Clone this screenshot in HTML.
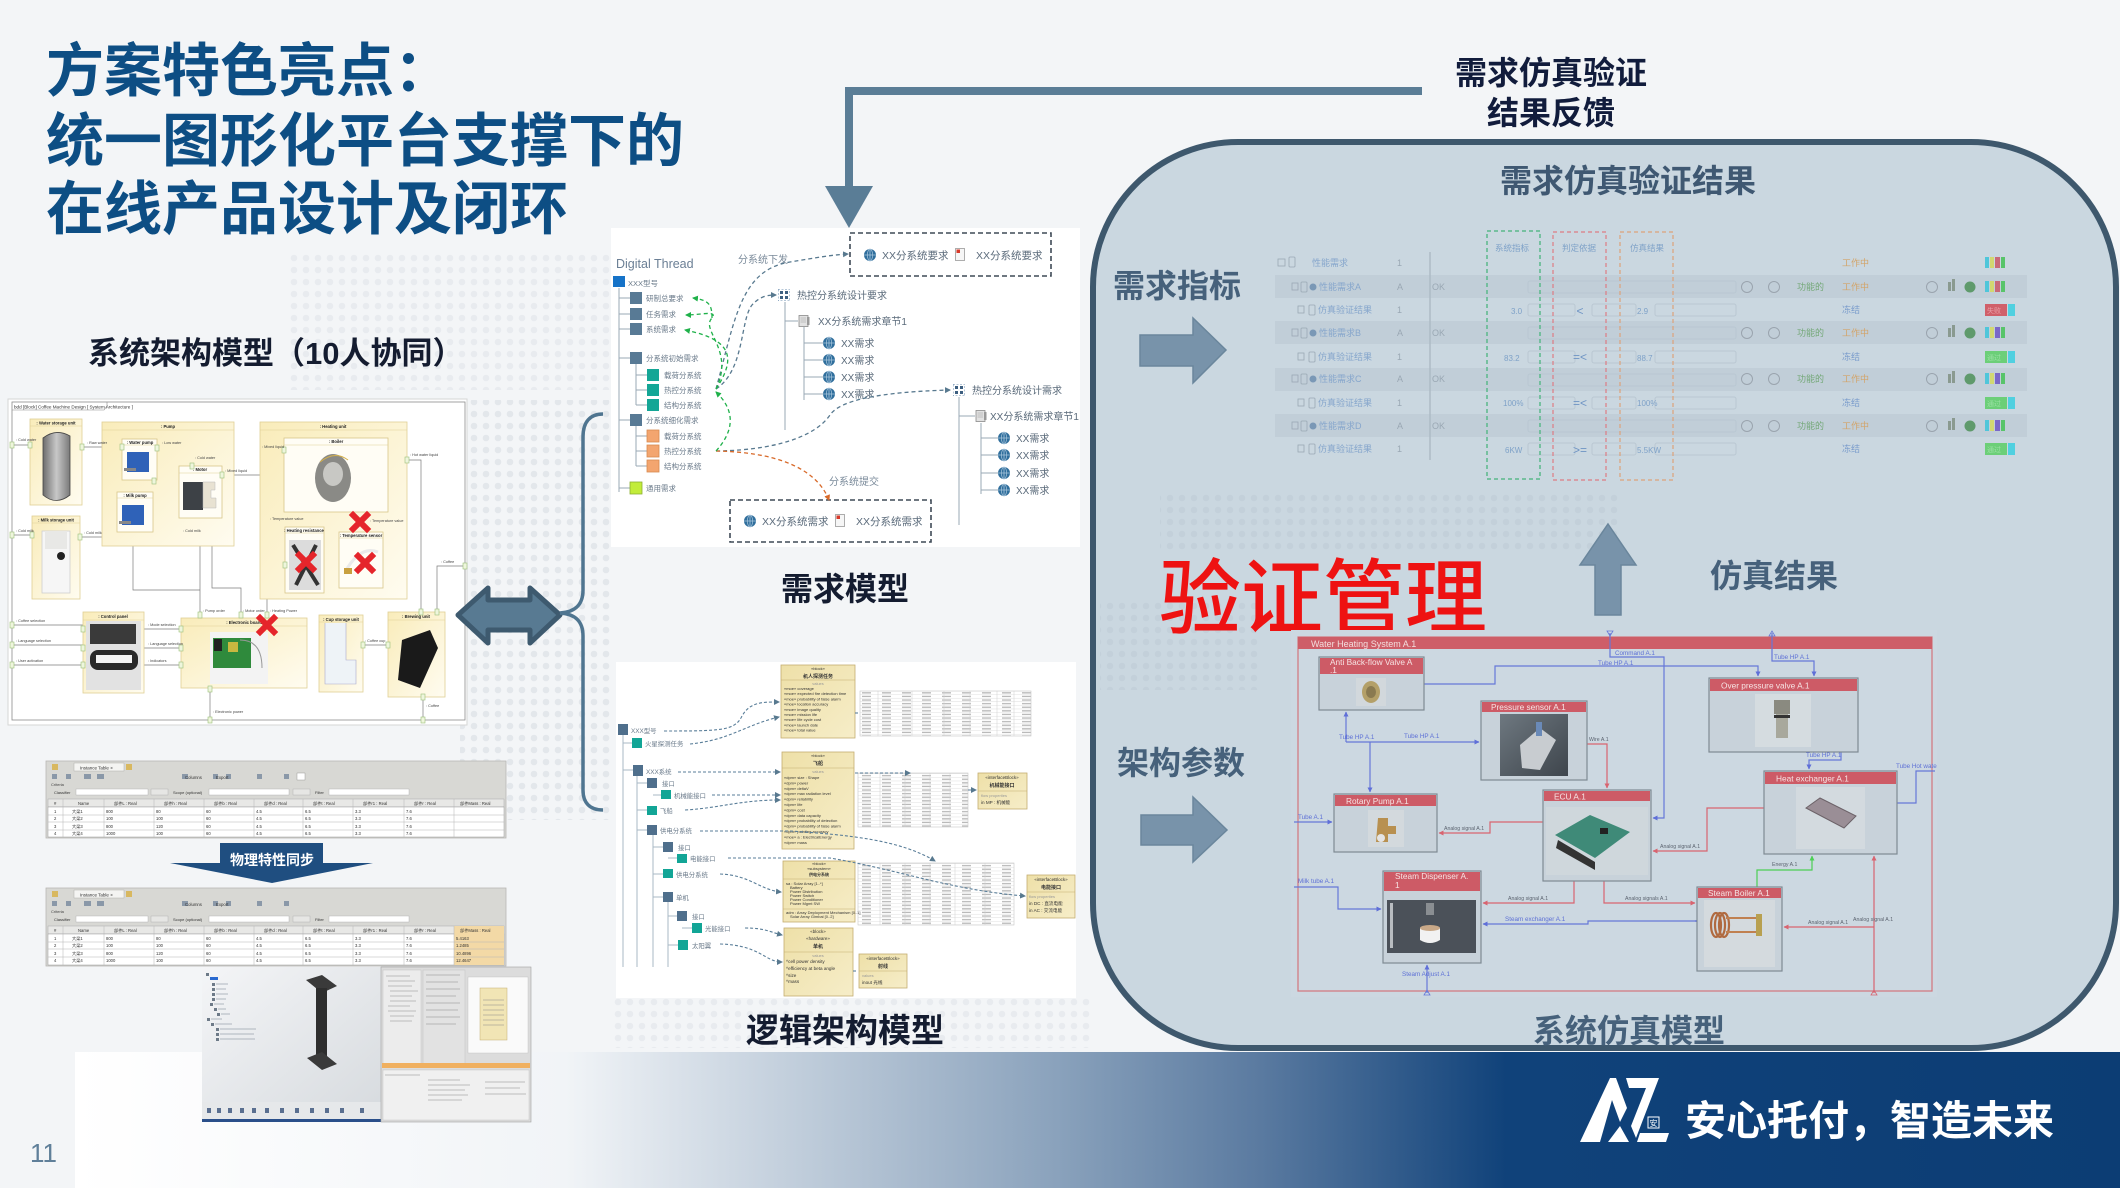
<!DOCTYPE html>
<html><head><meta charset="utf-8">
<style>
html,body{margin:0;padding:0;background:#f3f5f7;}
svg{display:block}
text{font-family:"Liberation Sans","Noto Sans CJK SC",sans-serif;}
</style></head><body>
<svg width="2120" height="1188" viewBox="0 0 2120 1188" xmlns="http://www.w3.org/2000/svg">
<defs>
 <linearGradient id="foot" x1="75" y1="0" x2="2120" y2="0" gradientUnits="userSpaceOnUse">
  <stop offset="0" stop-color="#ffffff"/>
  <stop offset="0.24" stop-color="#f1f4f7"/>
  <stop offset="0.48" stop-color="#8aa2bc"/>
  <stop offset="0.58" stop-color="#5a7aa0"/>
  <stop offset="0.70" stop-color="#10427a"/>
  <stop offset="1" stop-color="#0c3d74"/>
 </linearGradient>
 <linearGradient id="yel" x1="0" y1="0" x2="1" y2="1">
  <stop offset="0" stop-color="#f9ecba"/>
  <stop offset="1" stop-color="#fffcf0"/>
 </linearGradient>
 <linearGradient id="lyel" x1="0" y1="0" x2="1" y2="1">
  <stop offset="0" stop-color="#eee0a8"/>
  <stop offset="1" stop-color="#f6edc8"/>
 </linearGradient>
 <linearGradient id="tank" x1="0" y1="0" x2="1" y2="0">
  <stop offset="0" stop-color="#6d6d6d"/>
  <stop offset="0.5" stop-color="#c8c8c8"/>
  <stop offset="1" stop-color="#7a7a7a"/>
 </linearGradient>
 <linearGradient id="vp" x1="0" y1="0" x2="1" y2="1">
  <stop offset="0" stop-color="#f4f5f7"/>
  <stop offset="1" stop-color="#d6dade"/>
 </linearGradient>
 <linearGradient id="dk" x1="0" y1="0" x2="1" y2="1">
  <stop offset="0" stop-color="#6e7880"/>
  <stop offset="1" stop-color="#3e454c"/>
 </linearGradient>
 <pattern id="dots" width="12" height="12" patternUnits="userSpaceOnUse"><circle cx="6" cy="6" r="3.3" fill="#e1e5ea"/></pattern>
 <pattern id="dots2" width="12" height="12" patternUnits="userSpaceOnUse"><circle cx="6" cy="6" r="3.3" fill="#bfccd6"/></pattern>
 <pattern id="tbl" width="20" height="3.6" patternUnits="userSpaceOnUse"><rect width="20" height="3.6" fill="#fff"/><line x1="0" y1="3.4" x2="20" y2="3.4" stroke="#d4d4d4" stroke-width="0.4"/><rect x="2" y="1" width="9" height="1.3" fill="#b8b8b8"/></pattern>
 <symbol id="globe" viewBox="-6 -6 12 12" overflow="visible"><circle r="6" fill="#2f6e9c"/><path d="M-6 0H6M0-6V6" stroke="#a9c6dc" stroke-width="0.8"/><ellipse rx="2.6" ry="6" fill="none" stroke="#a9c6dc" stroke-width="0.7"/></symbol>
 <symbol id="pdf" viewBox="0 0 10 13"><rect x="0.5" y="0.5" width="9" height="12" fill="#f6f6f6" stroke="#9a9a9a" stroke-width="0.8"/><rect x="1.5" y="1.5" width="3.5" height="3.5" fill="#d83a2a"/></symbol>
 <symbol id="quad" viewBox="0 0 12 12"><rect x="0" y="0" width="12" height="12" fill="none" stroke="#6c8fb0" stroke-width="1" stroke-dasharray="2,1.5"/><rect x="2" y="2" width="3" height="3" fill="#3d5f80"/><rect x="7" y="2" width="3" height="3" fill="#3d5f80"/><rect x="2" y="7" width="3" height="3" fill="#3d5f80"/><rect x="7" y="7" width="3" height="3" fill="#3d5f80"/></symbol>
 <symbol id="doc" viewBox="0 0 12 12"><rect x="1" y="0.5" width="9" height="11" fill="#e2e2e2" stroke="#8a8a8a" stroke-width="0.8"/><rect x="9" y="2" width="2.5" height="8" fill="#999"/><path d="M2.5 3H8M2.5 5H8M2.5 7H8" stroke="#999" stroke-width="0.6"/></symbol>
 <marker id="ab" markerWidth="6" markerHeight="6" refX="5" refY="3" orient="auto" markerUnits="userSpaceOnUse"><path d="M0 0L6 3L0 6Z" fill="#58798f"/></marker>
 <marker id="ag" markerWidth="6" markerHeight="6" refX="5" refY="3" orient="auto" markerUnits="userSpaceOnUse"><path d="M0 0L6 3L0 6Z" fill="#1fb14a"/></marker>
 <marker id="ao" markerWidth="6" markerHeight="6" refX="5" refY="3" orient="auto" markerUnits="userSpaceOnUse"><path d="M0 0L6 3L0 6Z" fill="#d86a2a"/></marker>
 <marker id="mb" markerWidth="5" markerHeight="5" refX="4.5" refY="2.5" orient="auto" markerUnits="userSpaceOnUse"><path d="M0 0L5 2.5L0 5Z" fill="#5f6fd8"/></marker>
 <marker id="mr" markerWidth="5" markerHeight="5" refX="4.5" refY="2.5" orient="auto" markerUnits="userSpaceOnUse"><path d="M0 0L5 2.5L0 5Z" fill="#d86470"/></marker>
 <marker id="mg" markerWidth="5" markerHeight="5" refX="4.5" refY="2.5" orient="auto" markerUnits="userSpaceOnUse"><path d="M0 0L5 2.5L0 5Z" fill="#4ccf55"/></marker>
</defs>

<!-- background -->
<rect width="2120" height="1188" fill="#f3f5f7"/>
<rect x="290" y="250" width="320" height="140" fill="url(#dots)" opacity="0.6"/>
<rect x="460" y="400" width="150" height="420" fill="url(#dots)" opacity="0.9"/>
<rect x="610" y="998" width="480" height="50" fill="url(#dots)" opacity="0.6"/>

<!-- Title -->
<g font-weight="700" fill="#0d4e84" font-size="58">
 <text x="46" y="91">方案特色亮点：</text>
 <text x="46" y="161">统一图形化平台支撑下的</text>
 <text x="46" y="229">在线产品设计及闭环</text>
</g>

<!-- top feedback connector -->
<path d="M1422 91 H849 V190" fill="none" stroke="#5a7d96" stroke-width="8"/>
<polygon points="825,186 873,186 849,228" fill="#5a7d96"/>
<g font-weight="700" fill="#111c3c" font-size="32" text-anchor="middle">
 <text x="1551" y="84">需求仿真验证</text>
 <text x="1551" y="124">结果反馈</text>
</g>

<!-- left label -->
<text x="88" y="364" font-size="31" font-weight="700" fill="#141c30">系统架构模型（10人协同）</text>

<!-- ============ SYSTEM ARCHITECTURE IMAGE ============ -->
<rect x="8" y="399" width="459" height="326" fill="#ffffff" stroke="#d6d6d6"/>
<rect x="12" y="402" width="453" height="318" fill="none" stroke="#8c8c8c" stroke-width="0.8"/>
<path d="M12 410 H104 L107 406 V402" fill="none" stroke="#8c8c8c" stroke-width="0.6"/>
<text x="14" y="408.5" font-size="4.6" fill="#333">bdd [Block] Coffee Machine Design [ System Architecture ]</text>
<g fill="none" stroke="#7c7c7c" stroke-width="0.7">
 <path d="M12 445 H30"/><path d="M82 447 H122"/><path d="M157 448 H192 V466"/>
 <path d="M222 475 H277 V450 H284"/><path d="M154 480 V492 H162 V538 H200 V615"/>
 <path d="M133 532 V590 H200"/><path d="M212 518 V588 H241 V615"/>
 <path d="M285 565 H267 V615"/><path d="M421 612 V460 H407"/><path d="M437 612 V566 H465"/>
 <path d="M12 625 H83"/><path d="M12 645 H83"/><path d="M12 665 H83"/>
 <path d="M144 629 H181"/><path d="M144 648 H181"/><path d="M144 665 H181"/>
 <path d="M363 645 H388"/><path d="M210 688 V720"/><path d="M423 697 V720"/>
 <path d="M12 535 H32"/><path d="M80 537 H102"/><path d="M309 517 V527"/>
</g>
<g fill="url(#yel)" stroke="#e0cf95" stroke-width="0.8">
 <rect x="30" y="419" width="52" height="86"/>
 <rect x="102" y="422" width="132" height="124"/>
 <rect x="260" y="422" width="147" height="177"/>
 <rect x="32" y="516" width="48" height="83"/>
 <rect x="83" y="612" width="61" height="81"/>
 <rect x="181" y="618" width="126" height="70"/>
 <rect x="319" y="615" width="44" height="77"/>
 <rect x="388" y="612" width="57" height="85"/>
</g>
<g fill="#fffdf5" stroke="#d8c68a" stroke-width="0.8">
 <rect x="122" y="439" width="35" height="41"/>
 <rect x="117" y="492" width="36" height="40"/>
 <rect x="179" y="466" width="43" height="52"/>
 <rect x="284" y="438" width="104" height="74"/>
 <rect x="285" y="527" width="39" height="66"/>
 <rect x="339" y="532" width="44" height="56"/>
</g>
<g stroke="#e0cf95" stroke-width="0.6">
 <path d="M30 426H82M102 430H234M260 430H407M32 523H80M83 620H144M181 626H307M319 622H363M388 620H445M122 445H157M117 498H153M179 473H222M284 445H388M285 533H324M339 538H383"/>
</g>
<g font-size="4.2" fill="#222" text-anchor="middle" font-weight="700">
 <text x="56" y="424.5">: Water storage unit</text><text x="168" y="428">: Pump</text>
 <text x="333" y="428">: Heating unit</text><text x="56" y="521.5">: Milk storage unit</text>
 <text x="113" y="618">: Control panel</text><text x="244" y="624">: Electronic board</text>
 <text x="341" y="621">: Cup storage unit</text><text x="416" y="618">: Brewing unit</text>
 <text x="140" y="444">: Water pump</text><text x="135" y="497">: Milk pump</text>
 <text x="200" y="471">: Motor</text><text x="336" y="443">: Boiler</text>
 <text x="304" y="532">: Heating resistance</text><text x="361" y="537">: Temperature sensor</text>
</g>
<!-- images -->
<path d="M43 438 Q56 428 70 436 L70 495 Q56 506 43 495 Z" fill="url(#tank)" stroke="#444" stroke-width="0.8"/>
<rect x="127" y="452" width="22" height="20" fill="#2f62b8"/><rect x="124" y="468" width="12" height="3" fill="#888"/>
<rect x="122" y="505" width="22" height="20" fill="#2f62b8"/><rect x="119" y="521" width="12" height="3" fill="#888"/>
<rect x="183" y="482" width="20" height="28" fill="#3d4146"/><path d="M203 482 h12 v8 h-4 v8 h5 v10 h-13 z" fill="#e8e2d2" stroke="#bbb" stroke-width="0.5"/>
<ellipse cx="333" cy="478" rx="18" ry="24" fill="#8a8a86"/><ellipse cx="333" cy="474" rx="10" ry="12" fill="#c8c8c4"/><path d="M320 462 Q335 450 348 460" stroke="#d4b04a" fill="none"/>
<rect x="289" y="540" width="32" height="50" fill="#dcdcdc"/><path d="M293 545 L318 585 M316 545 L296 585" stroke="#333" stroke-width="4"/>
<path d="M345 572 Q360 545 378 552" fill="none" stroke="#eaeaea" stroke-width="3"/><rect x="344" y="568" width="8" height="6" fill="#c8a040"/>
<rect x="42" y="531" width="28" height="62" fill="#f6f6f6" stroke="#cfcfcf" stroke-width="0.8"/><rect x="45" y="531" width="22" height="18" fill="#e8e8e6"/><circle cx="61" cy="556" r="4" fill="#222"/>
<rect x="86" y="621" width="55" height="69" fill="#e2e2e2"/><rect x="90" y="624" width="46" height="20" fill="#3a3a3a"/><rect x="90" y="650" width="48" height="20" rx="8" fill="#2a2a2a"/><rect x="96" y="655" width="36" height="8" fill="#f4f4f4"/>
<rect x="210" y="632" width="58" height="52" fill="#f3f3f3"/><rect x="213" y="638" width="38" height="30" fill="#2f8a3c"/><rect x="228" y="642" width="10" height="10" fill="#c8b840"/><rect x="214" y="639" width="8" height="12" fill="#222"/><path d="M240 640 Q262 640 262 668" stroke="#999" fill="none"/>
<path d="M325 623 V684 H356 V660 H346 V623" fill="#eef3f7" stroke="#aac" stroke-width="0.6"/>
<path d="M402 640 L430 630 L438 648 L420 688 L398 680 Z" fill="#1a1a1a"/>
<g stroke="#e5252b" stroke-width="6" stroke-linecap="square">
 <path d="M260 618 L274 632 M274 618 L260 632"/><path d="M353 515 L367 529 M367 515 L353 529"/>
 <path d="M299 555 L313 569 M313 555 L299 569"/><path d="M358 556 L372 570 M372 556 L358 570"/>
</g>
<g fill="#eef6dc" stroke="#9bbf7a" stroke-width="0.6">
 <rect x="10" y="442" width="4" height="6"/><rect x="28" y="442" width="4" height="6"/><rect x="80" y="444" width="4" height="6"/>
 <rect x="120" y="444" width="4" height="6"/><rect x="155" y="445" width="4" height="6"/><rect x="190" y="463" width="4" height="6"/>
 <rect x="220" y="472" width="4" height="6"/><rect x="282" y="447" width="4" height="6"/><rect x="152" y="478" width="4" height="6"/>
 <rect x="10" y="532" width="4" height="6"/><rect x="30" y="532" width="4" height="6"/><rect x="78" y="534" width="4" height="6"/>
 <rect x="10" y="622" width="4" height="6"/><rect x="10" y="642" width="4" height="6"/><rect x="10" y="662" width="4" height="6"/>
 <rect x="81" y="626" width="4" height="6"/><rect x="81" y="645" width="4" height="6"/><rect x="81" y="662" width="4" height="6"/>
 <rect x="179" y="626" width="4" height="6"/><rect x="179" y="645" width="4" height="6"/><rect x="179" y="662" width="4" height="6"/>
 <rect x="198" y="612" width="4" height="6"/><rect x="239" y="612" width="4" height="6"/><rect x="265" y="612" width="4" height="6"/>
 <rect x="208" y="686" width="4" height="6"/><rect x="208" y="717" width="4" height="6"/><rect x="421" y="694" width="4" height="6"/>
 <rect x="421" y="717" width="4" height="6"/><rect x="361" y="642" width="4" height="6"/><rect x="386" y="642" width="4" height="6"/>
 <rect x="419" y="609" width="4" height="6"/><rect x="435" y="609" width="4" height="6"/><rect x="463" y="563" width="4" height="6"/>
 <rect x="405" y="457" width="4" height="6"/><rect x="283" y="562" width="4" height="6"/>
</g>
<g font-size="3.8" fill="#444">
 <text x="16" y="441">: Cold water</text><text x="87" y="444">: Raw water</text><text x="162" y="444">: Low water</text>
 <text x="195" y="459">: Cold water</text><text x="225" y="472">: Mixed liquid</text><text x="262" y="448">: Mixed liquid</text>
 <text x="410" y="456">: Hot water liquid</text><text x="16" y="532">: Cold milk</text><text x="84" y="534">: Cold milk</text>
 <text x="183" y="532">: Cold milk</text><text x="16" y="622">: Coffee selection</text><text x="16" y="642">: Language selection</text>
 <text x="16" y="662">: User activation</text><text x="148" y="626">: Mode selection</text><text x="148" y="645">: Language selection</text>
 <text x="148" y="662">: Indicators</text><text x="203" y="612">: Pump order</text><text x="243" y="612">: Motor order</text>
 <text x="270" y="612">: Heating Power</text><text x="365" y="642">: Coffee cup</text><text x="441" y="563">: Coffee</text>
 <text x="213" y="713">: Electronic power</text><text x="426" y="707">: Coffee</text><text x="270" y="520">: Temperature value</text>
 <text x="370" y="522">: Temperature value</text>
</g>

<!-- double arrow & brace -->
<polygon points="458,615 488,588 488,600 530,600 530,588 560,615 530,643 530,630 488,630 488,643" fill="#587a92" stroke="#3e5a6f" stroke-width="5" stroke-linejoin="round"/>
<path d="M603 414 C590 414 583 422 583 437 L583 590 C583 605 575 612 560 613 C575 614 583 621 583 636 L583 790 C583 803 590 810 603 810" fill="none" stroke="#4f7590" stroke-width="3.5"/>

<!-- ============ REQUIREMENTS PANEL ============ -->
<rect x="611" y="228" width="469" height="319" fill="#ffffff"/>
<text x="616" y="268" font-size="12.5" fill="#6b7f95">Digital Thread</text>
<g stroke="#9aa8b5" stroke-width="1" fill="none">
 <path d="M619 288 V492"/><path d="M619 298H630M619 314H630M619 329H630M619 358H630M619 420H630M619 488H630"/>
 <path d="M636 364 V405 M636 375H647M636 390H647M636 405H647"/>
 <path d="M636 426 V466 M636 436H647M636 451H647M636 466H647"/>
 <path d="M785 302 V430 M785 321H798"/><path d="M804 327 V400 M804 343H823M804 360H823M804 377H823M804 394H823"/>
 <path d="M959 397 V525 M959 416H975"/><path d="M981 423 V494 M981 438H998M981 455H998M981 473H998M981 490H998"/>
</g>
<rect x="613" y="276" width="12" height="11" fill="#1673c8"/>
<g fill="#587a95"><rect x="630" y="292" width="12" height="12"/><rect x="630" y="308" width="12" height="12"/><rect x="630" y="323" width="12" height="12"/><rect x="630" y="352" width="12" height="12"/><rect x="630" y="414" width="12" height="12"/></g>
<g fill="#14a696"><rect x="647" y="369" width="12" height="12"/><rect x="647" y="384" width="12" height="12"/><rect x="647" y="399" width="12" height="12"/></g>
<g fill="#f3a56f" stroke="#d88a50" stroke-width="0.8"><rect x="647" y="430" width="12" height="12"/><rect x="647" y="445" width="12" height="12"/><rect x="647" y="460" width="12" height="12"/></g>
<rect x="630" y="482" width="12" height="12" fill="#c2ec3a" stroke="#8cb030" stroke-width="0.8"/>
<g font-size="7.5" fill="#6a7a8a">
 <text x="628" y="286">XXX型号</text>
 <text x="646" y="301">研制总要求</text><text x="646" y="317">任务需求</text><text x="646" y="332">系统需求</text>
 <text x="646" y="361">分系统初始需求</text><text x="664" y="378">载荷分系统</text><text x="664" y="393">热控分系统</text><text x="664" y="408">结构分系统</text>
 <text x="646" y="423">分系统细化需求</text><text x="664" y="439">载荷分系统</text><text x="664" y="454">热控分系统</text><text x="664" y="469">结构分系统</text>
 <text x="646" y="491">通用需求</text>
</g>
<!-- dashed boxes -->
<rect x="850" y="233" width="201" height="43" fill="none" stroke="#3f4a56" stroke-width="1.6" stroke-dasharray="5,3"/>
<rect x="730" y="500" width="201" height="42" fill="none" stroke="#3f4a56" stroke-width="1.6" stroke-dasharray="5,3"/>
<use href="#globe" x="864" y="249" width="12" height="12"/>
<use href="#pdf" x="955" y="248" width="10" height="13"/>
<use href="#globe" x="744" y="515" width="12" height="12"/>
<use href="#pdf" x="835" y="514" width="10" height="13"/>
<g font-size="10.5" fill="#5a6a7a">
 <text x="882" y="259">XX分系统要求</text><text x="976" y="259">XX分系统要求</text>
 <text x="762" y="525">XX分系统需求</text><text x="856" y="525">XX分系统需求</text>
</g>
<use href="#quad" x="778" y="289" width="12" height="12"/>
<use href="#doc" x="798" y="315" width="12" height="12"/>
<use href="#quad" x="953" y="384" width="12" height="12"/>
<use href="#doc" x="975" y="410" width="12" height="12"/>
<g>
 <use href="#globe" x="823" y="337" width="12" height="12"/><use href="#globe" x="823" y="354" width="12" height="12"/>
 <use href="#globe" x="823" y="371" width="12" height="12"/><use href="#globe" x="823" y="388" width="12" height="12"/>
 <use href="#globe" x="998" y="432" width="12" height="12"/><use href="#globe" x="998" y="449" width="12" height="12"/>
 <use href="#globe" x="998" y="467" width="12" height="12"/><use href="#globe" x="998" y="484" width="12" height="12"/>
</g>
<g font-size="10" fill="#5a6a7a">
 <text x="797" y="299">热控分系统设计要求</text><text x="818" y="325">XX分系统需求章节1</text>
 <text x="841" y="347">XX需求</text><text x="841" y="364">XX需求</text><text x="841" y="381">XX需求</text><text x="841" y="398">XX需求</text>
 <text x="972" y="394">热控分系统设计需求</text><text x="990" y="420">XX分系统需求章节1</text>
 <text x="1016" y="442">XX需求</text><text x="1016" y="459">XX需求</text><text x="1016" y="477">XX需求</text><text x="1016" y="494">XX需求</text>
</g>
<g font-size="10" fill="#7a8a9a"><text x="738" y="263">分系统下发</text><text x="829" y="485">分系统提交</text></g>
<g fill="none" stroke-width="1.3" stroke-dasharray="4,3">
 <path d="M716 389 C735 320 740 270 790 262 C815 258 830 255 848 254" stroke="#58798f" marker-end="url(#ab)"/>
 <path d="M716 389 C745 370 740 320 752 305 C760 296 768 295 776 295" stroke="#58798f" marker-end="url(#ab)"/>
 <path d="M716 451 C790 450 820 430 830 415 C840 400 880 392 950 390" stroke="#58798f" marker-end="url(#ab)"/>
 <path d="M716 451 C770 452 815 465 829 500" stroke="#d86a2a" marker-end="url(#ao)"/>
 <path d="M716 389 C735 360 735 340 685 330" stroke="#1fb14a" marker-end="url(#ag)"/>
 <path d="M716 389 C735 350 700 330 712 318 C718 310 700 315 686 315" stroke="#1fb14a" marker-end="url(#ag)"/>
 <path d="M712 318 C712 306 710 300 693 298" stroke="#1fb14a" marker-end="url(#ag)"/>
 <path d="M716 451 C735 430 735 410 716 392" stroke="#1fb14a" marker-end="url(#ag)"/>
</g>
<text x="845" y="600" font-size="32" font-weight="700" fill="#141c30" text-anchor="middle">需求模型</text>

<!-- ============ LOGICAL ARCHITECTURE PANEL ============ -->
<rect x="616" y="662" width="460" height="336" fill="#ffffff"/>
<g stroke="#a8b8c6" stroke-width="1" fill="none">
 <path d="M623 735 V967 M637 776 V967 M653 835 V967 M668 902 V967"/>
 <path d="M623 743H632M623 770H633M637 783H647M653 795H661M637 810H647M637 830H647M653 847H663M668 858H677M653 874H663M653 897H663M668 916H677M682 928H692M668 945H678"/>
</g>
<g fill="#4f6f8c">
 <rect x="618" y="724" width="10" height="11"/><rect x="633" y="765" width="10" height="11"/><rect x="647" y="778" width="10" height="10"/>
 <rect x="647" y="825" width="10" height="10"/><rect x="663" y="842" width="10" height="10"/><rect x="663" y="892" width="10" height="10"/>
 <rect x="677" y="911" width="10" height="10"/>
</g>
<g fill="#12a596">
 <rect x="632" y="738" width="10" height="10"/><rect x="661" y="790" width="10" height="9"/><rect x="647" y="806" width="10" height="9"/>
 <rect x="677" y="854" width="10" height="9"/><rect x="663" y="869" width="10" height="9"/><rect x="692" y="923" width="10" height="10"/>
 <rect x="678" y="940" width="10" height="10"/>
</g>
<g font-size="6.4" fill="#6a7a8a">
 <text x="631" y="733">XXX型号</text><text x="645" y="746">火星探测任务</text><text x="646" y="774">XXX系统</text>
 <text x="662" y="786">接口</text><text x="674" y="798">机械能接口</text><text x="660" y="813">飞船</text>
 <text x="660" y="833">供电分系统</text><text x="678" y="850">接口</text><text x="690" y="861">电能接口</text>
 <text x="676" y="877">供电分系统</text><text x="676" y="900">单机</text><text x="692" y="919">接口</text>
 <text x="705" y="931">光能接口</text><text x="692" y="948">太阳翼</text>
</g>
<!-- tables -->
<rect x="860" y="691" width="171" height="45" fill="url(#tbl)" stroke="#c8c8c8" stroke-width="0.6"/>
<rect x="858" y="773" width="110" height="54" fill="url(#tbl)" stroke="#c8c8c8" stroke-width="0.6"/>
<rect x="858" y="863" width="156" height="62" fill="url(#tbl)" stroke="#c8c8c8" stroke-width="0.6"/>
<g stroke="#cfcfcf" stroke-width="0.5"><path d="M878 691V736M912 691V736M944 691V736M970 691V736M997 691V736M1014 691V736M880 773V827M905 773V827M930 773V827M950 773V827M880 863V925M905 863V925M930 863V925M955 863V925M985 863V925"/></g>
<!-- blocks -->
<g fill="url(#lyel)" stroke="#c4ad70" stroke-width="0.8">
 <rect x="781" y="665" width="74" height="73"/><rect x="782" y="752" width="72" height="97"/>
 <rect x="783" y="861" width="72" height="61"/><rect x="784" y="928" width="69" height="68"/>
 <rect x="978" y="773" width="49" height="36"/><rect x="1027" y="875" width="48" height="43"/>
 <rect x="859" y="954" width="48" height="34"/>
</g>
<g stroke="#c4ad70" stroke-width="0.6"><path d="M781 680H855M782 768H854M783 879H855M783 909H855M784 952H853M978 791H1027M1027 892H1075M859 971H907"/></g>
<g font-size="4" fill="#333" text-anchor="middle">
 <text x="818" y="670">«block»</text><text x="818" y="678" font-size="5" font-weight="700">机人探测任务</text><text x="818" y="685" fill="#999">values</text>
 <text x="818" y="757">«block»</text><text x="818" y="765" font-size="5" font-weight="700">飞船</text><text x="818" y="773" fill="#999">values</text>
 <text x="819" y="865">«block»</text><text x="819" y="870">«subsystem»</text><text x="819" y="876" font-weight="700">供电分系统</text>
 <text x="818" y="933" font-size="4.5">«block»</text><text x="818" y="940" font-size="4.5">«hardware»</text><text x="818" y="948" font-size="5" font-weight="700">单机</text><text x="818" y="957" fill="#999">values</text>
 <text x="1002" y="779" font-size="4.5">«interfaceBlock»</text><text x="1002" y="787" font-size="5" font-weight="700">机械能接口</text>
 <text x="1051" y="881" font-size="4.5">«interfaceBlock»</text><text x="1051" y="889" font-size="5" font-weight="700">电能接口</text>
 <text x="883" y="960" font-size="4.5">«interfaceBlock»</text><text x="883" y="968" font-size="5" font-weight="700">射线</text>
</g>
<g font-size="4" fill="#333">
 <text x="784" y="690">«moe» coverage</text><text x="784" y="695.2">«moe» expected fire detection time</text>
 <text x="784" y="700.4">«moe» probability of false alarm</text><text x="784" y="705.6">«moe» location accuracy</text>
 <text x="784" y="710.8">«moe» image quality</text><text x="784" y="716">«moe» mission life</text>
 <text x="784" y="721.2">«moe» life cycle cost</text><text x="784" y="726.4">«moe» launch date</text>
 <text x="784" y="731.6">«moe» total value</text>
 <text x="784" y="779">«dpm» size : Shape</text><text x="784" y="784.4">«dpm» power</text><text x="784" y="789.8">«dpm» deltaV</text>
 <text x="784" y="795.2">«dpm» max radiation level</text><text x="784" y="800.6">«dpm» reliability</text><text x="784" y="806">«dpm» life</text>
 <text x="784" y="811.4">«dpm» cost</text><text x="784" y="816.8">«dpm» data capacity</text><text x="784" y="822.2">«dpm» probability of detection</text>
 <text x="784" y="827.6">«dpm» probability of false alarm</text><text x="784" y="833">«dpm» pointing accuracy</text>
 <text x="784" y="838.4">«moe» a : ElectricalEnergy</text><text x="784" y="843.8">«dpm» mass</text>
 <text x="786" y="885">sa : Solar Array [1..*]</text><text x="790" y="889">Battery</text><text x="790" y="893">Power Distribution</text>
 <text x="790" y="897">Power Switch</text><text x="790" y="901">Power Conditioner</text><text x="790" y="905">Power Mgmt SW</text>
 <text x="786" y="914">adm : Array Deployment Mechanism [0..1]</text><text x="790" y="918">Solar Array Gimbal [0..2]</text>
 <text x="786" y="963" font-size="4.6">^cell power density</text><text x="786" y="970" font-size="4.6">^efficiency at beta angle</text>
 <text x="786" y="977" font-size="4.6">^size</text><text x="786" y="983" font-size="4.6">^mass</text>
 <text x="981" y="797" fill="#999">flow properties</text><text x="981" y="804" font-size="4.6">in MP : 机械能</text>
 <text x="1029" y="898" fill="#999">flow properties</text><text x="1029" y="905" font-size="4.6">in DC : 直流电能</text><text x="1029" y="912" font-size="4.6">in AC : 交流电能</text>
 <text x="862" y="977" fill="#999">values</text><text x="862" y="984" font-size="4.6">inout 光线</text>
</g>
<g fill="none" stroke="#5a7e99" stroke-width="1.1" stroke-dasharray="3,2">
 <path d="M664 731 C720 731 735 731 742 716 C750 702 762 702 779 702" marker-end="url(#ab)"/>
 <path d="M690 744 C730 740 745 725 779 717" marker-end="url(#ab)"/>
 <path d="M678 772 H780" marker-end="url(#ab)"/><path d="M712 795 H780" marker-end="url(#ab)"/>
 <path d="M685 810 C720 808 740 800 780 800" marker-end="url(#ab)"/>
 <path d="M700 831 H790 C850 835 900 840 935 861" marker-end="url(#ab)"/>
 <path d="M728 858 H830 C900 870 950 890 1025 896" marker-end="url(#ab)"/>
 <path d="M720 874 C750 875 760 890 781 892" marker-end="url(#ab)"/>
 <path d="M745 928 C765 928 770 932 782 935" marker-end="url(#ab)"/>
 <path d="M720 944 C760 945 765 962 782 962" marker-end="url(#ab)"/>
 <path d="M855 713 H858"/><path d="M855 773 H910" marker-end="url(#ab)"/><path d="M968 790 H976" marker-end="url(#ab)"/>
 <path d="M853 971 H857"/>
</g>
<text x="845" y="1042" font-size="33" font-weight="700" fill="#141c30" text-anchor="middle">逻辑架构模型</text>

<!-- ============ FOOTER ============ -->
<rect x="75" y="1052" width="2045" height="136" fill="url(#foot)"/>

<!-- ============ LEFT TABLES ============ -->
<g>
 <rect x="46" y="761" width="460" height="77" fill="#d8d8d4" stroke="#b8b8b4" stroke-width="0.8"/>
 <rect x="52" y="764" width="6" height="6" fill="#d8b860"/><rect x="74" y="763" width="50" height="8" fill="#f4f4f2" stroke="#b0b0ac" stroke-width="0.5"/>
 <rect x="126" y="764" width="6" height="6" fill="#d8b860"/>
 <text x="80" y="769.5" font-size="4.5" fill="#333">Instance Table  ×</text>
 <g fill="#8a98a8"><rect x="52" y="774" width="5" height="5"/><rect x="66" y="774" width="5" height="5"/><rect x="84" y="774" width="7" height="5"/><rect x="97" y="774" width="7" height="5"/><rect x="182" y="774" width="6" height="5"/><rect x="213" y="774" width="5" height="5"/><rect x="226" y="774" width="5" height="5"/><rect x="257" y="774" width="5" height="5"/><rect x="284" y="774" width="5" height="5"/><rect x="297" y="773" width="8" height="7" fill="#fff" stroke="#888" stroke-width="0.4"/></g>
 <text x="185" y="779" font-size="4.3" fill="#333">Columns</text><text x="216" y="779" font-size="4.3" fill="#333">Export</text>
 <text x="51" y="786" font-size="4" fill="#444">Criteria</text>
 <text x="54" y="794" font-size="4" fill="#333">Classifier</text>
 <rect x="76" y="789" width="72" height="6" fill="#fff" stroke="#aaa" stroke-width="0.4"/><rect x="151" y="789" width="17" height="6" fill="#e6e6e4" stroke="#aaa" stroke-width="0.4"/>
 <text x="173" y="794" font-size="4" fill="#333">Scope (optional)</text>
 <rect x="209" y="789" width="80" height="6" fill="#fff" stroke="#aaa" stroke-width="0.4"/><rect x="293" y="789" width="17" height="6" fill="#e6e6e4" stroke="#aaa" stroke-width="0.4"/>
 <text x="315" y="794" font-size="4" fill="#333">Filter</text><rect x="329" y="789" width="80" height="6" fill="#fff" stroke="#aaa" stroke-width="0.4"/>
 <rect x="48" y="799" width="456" height="8" fill="#e8e8e6" stroke="#aaa" stroke-width="0.5"/>
 <rect x="48" y="807" width="456" height="30" fill="#fff" stroke="#999" stroke-width="0.5"/>
 <g stroke="#b4b4b4" stroke-width="0.5"><path d="M48 815H504M48 822H504M48 830H504M63 799V837M104 799V837M154 799V837M204 799V837M254 799V837M303 799V837M353 799V837M404 799V837M454 799V837"/></g>
 <g font-size="4.2" fill="#333">
  <text x="54" y="805">#</text><text x="78" y="805">Name</text><text x="114" y="805">部件L : Real</text><text x="164" y="805">部件h : Real</text><text x="214" y="805">部件b : Real</text><text x="264" y="805">部件d : Real</text><text x="313" y="805">部件t : Real</text><text x="363" y="805">部件r1 : Real</text><text x="414" y="805">部件r : Real</text><text x="460" y="805">部件Mass : Real</text>
  <text x="54" y="813">1</text><text x="72" y="813">大梁1</text><text x="106" y="813">800</text><text x="156" y="813">80</text><text x="206" y="813">60</text><text x="256" y="813">4.5</text><text x="305" y="813">6.5</text><text x="355" y="813">3.3</text><text x="406" y="813">7.6</text>
  <text x="54" y="820">2</text><text x="72" y="820">大梁2</text><text x="106" y="820">100</text><text x="156" y="820">100</text><text x="206" y="820">60</text><text x="256" y="820">4.5</text><text x="305" y="820">6.5</text><text x="355" y="820">3.3</text><text x="406" y="820">7.6</text>
  <text x="54" y="828">3</text><text x="72" y="828">大梁3</text><text x="106" y="828">800</text><text x="156" y="828">120</text><text x="206" y="828">60</text><text x="256" y="828">4.5</text><text x="305" y="828">6.5</text><text x="355" y="828">3.3</text><text x="406" y="828">7.6</text>
  <text x="54" y="835">4</text><text x="72" y="835">大梁4</text><text x="106" y="835">1000</text><text x="156" y="835">100</text><text x="206" y="835">60</text><text x="256" y="835">4.5</text><text x="305" y="835">6.5</text><text x="355" y="835">3.3</text><text x="406" y="835">7.6</text>
 </g>
</g>
<!-- sync arrow -->
<polygon points="220,843 323,843 323,863 373,863 272,883 170,863 220,863" fill="#1f4e80"/>
<text x="272" y="865" font-size="14" font-weight="700" fill="#ffffff" text-anchor="middle">物理特性同步</text>
<g>
 <rect x="46" y="888" width="460" height="78" fill="#d8d8d4" stroke="#b8b8b4" stroke-width="0.8"/>
 <rect x="52" y="891" width="6" height="6" fill="#d8b860"/><rect x="74" y="890" width="50" height="8" fill="#f4f4f2" stroke="#b0b0ac" stroke-width="0.5"/>
 <rect x="126" y="891" width="6" height="6" fill="#d8b860"/>
 <text x="80" y="896.5" font-size="4.5" fill="#333">Instance Table  ×</text>
 <g fill="#8a98a8"><rect x="52" y="901" width="5" height="5"/><rect x="66" y="901" width="5" height="5"/><rect x="84" y="901" width="7" height="5"/><rect x="97" y="901" width="7" height="5"/><rect x="182" y="901" width="6" height="5"/><rect x="213" y="901" width="5" height="5"/><rect x="226" y="901" width="5" height="5"/><rect x="257" y="901" width="5" height="5"/><rect x="284" y="901" width="5" height="5"/></g>
 <text x="185" y="906" font-size="4.3" fill="#333">Columns</text><text x="216" y="906" font-size="4.3" fill="#333">Export</text>
 <text x="51" y="913" font-size="4" fill="#444">Criteria</text>
 <text x="54" y="921" font-size="4" fill="#333">Classifier</text>
 <rect x="76" y="916" width="72" height="6" fill="#fff" stroke="#aaa" stroke-width="0.4"/><rect x="151" y="916" width="17" height="6" fill="#e6e6e4" stroke="#aaa" stroke-width="0.4"/>
 <text x="173" y="921" font-size="4" fill="#333">Scope (optional)</text>
 <rect x="209" y="916" width="80" height="6" fill="#fff" stroke="#aaa" stroke-width="0.4"/><rect x="293" y="916" width="17" height="6" fill="#e6e6e4" stroke="#aaa" stroke-width="0.4"/>
 <text x="315" y="921" font-size="4" fill="#333">Filter</text><rect x="329" y="916" width="80" height="6" fill="#fff" stroke="#aaa" stroke-width="0.4"/>
 <rect x="48" y="926" width="456" height="8" fill="#e8e8e6" stroke="#aaa" stroke-width="0.5"/>
 <rect x="48" y="934" width="456" height="31" fill="#fff" stroke="#999" stroke-width="0.5"/>
 <rect x="454" y="926" width="50" height="39" fill="#f3d9a6"/>
 <g stroke="#b4b4b4" stroke-width="0.5"><path d="M48 942H504M48 949H504M48 957H504M63 926V965M104 926V965M154 926V965M204 926V965M254 926V965M303 926V965M353 926V965M404 926V965M454 926V965"/></g>
 <g font-size="4.2" fill="#333">
  <text x="54" y="932">#</text><text x="78" y="932">Name</text><text x="114" y="932">部件L : Real</text><text x="164" y="932">部件h : Real</text><text x="214" y="932">部件b : Real</text><text x="264" y="932">部件d : Real</text><text x="313" y="932">部件t : Real</text><text x="363" y="932">部件r1 : Real</text><text x="414" y="932">部件r : Real</text><text x="460" y="932">部件Mass : Real</text>
  <text x="54" y="940">1</text><text x="72" y="940">大梁1</text><text x="106" y="940">800</text><text x="156" y="940">80</text><text x="206" y="940">60</text><text x="256" y="940">4.5</text><text x="305" y="940">6.5</text><text x="355" y="940">3.3</text><text x="406" y="940">7.6</text><text x="456" y="940">5.4163</text>
  <text x="54" y="947">2</text><text x="72" y="947">大梁2</text><text x="106" y="947">100</text><text x="156" y="947">100</text><text x="206" y="947">60</text><text x="256" y="947">4.5</text><text x="305" y="947">6.5</text><text x="355" y="947">3.3</text><text x="406" y="947">7.6</text><text x="456" y="947">1.2485</text>
  <text x="54" y="955">3</text><text x="72" y="955">大梁3</text><text x="106" y="955">800</text><text x="156" y="955">120</text><text x="206" y="955">60</text><text x="256" y="955">4.5</text><text x="305" y="955">6.5</text><text x="355" y="955">3.3</text><text x="406" y="955">7.6</text><text x="456" y="955">10.4896</text>
  <text x="54" y="962">4</text><text x="72" y="962">大梁4</text><text x="106" y="962">1000</text><text x="156" y="962">100</text><text x="206" y="962">60</text><text x="256" y="962">4.5</text><text x="305" y="962">6.5</text><text x="355" y="962">3.3</text><text x="406" y="962">7.6</text><text x="456" y="962">12.4647</text>
 </g>
</g>
<!-- screenshot -->
<rect x="202" y="967" width="179" height="155" fill="url(#vp)"/>
<g fill="#6d7a88"><rect x="206" y="973" width="3" height="3"/><rect x="210" y="977" width="8" height="3" fill="#2a6ad0"/><rect x="212" y="983" width="3" height="3"/><rect x="212" y="988" width="3" height="3"/><rect x="212" y="993" width="3" height="3"/><rect x="212" y="998" width="3" height="3"/><rect x="210" y="1003" width="3" height="3"/><rect x="214" y="1008" width="3" height="3"/><rect x="217" y="1013" width="3" height="3"/><rect x="207" y="1018" width="3" height="3"/><rect x="211" y="1023" width="3" height="3"/><rect x="216" y="1028" width="3" height="3"/><rect x="216" y="1033" width="3" height="3"/><rect x="216" y="1038" width="3" height="3"/></g>
<g stroke="#9aa4ae" stroke-width="0.8"><path d="M216 984H228M216 989H226M216 994H228M216 999H226M214 1004H224M218 1009H226M221 1014H230M211 1019H222M215 1024H232M220 1029H256M220 1034H254M220 1039H255"/></g>
<path d="M306 980 L322 975 L337 986 L322 993 Z" fill="#3a3a3a"/><path d="M316 988 H327 V1060 H316 Z" fill="#2e2e2e"/><path d="M307 1058 L322 1052 L337 1064 L322 1070 Z" fill="#3a3a3a"/>
<rect x="202" y="1102" width="179" height="18" fill="#e6e8ea"/><g fill="#5a6f90"><rect x="207" y="1108" width="4" height="5"/><rect x="217" y="1108" width="4" height="5"/><rect x="228" y="1108" width="4" height="5"/><rect x="240" y="1108" width="4" height="5"/><rect x="252" y="1108" width="4" height="5"/><rect x="265" y="1108" width="4" height="5"/><rect x="280" y="1108" width="4" height="5"/><rect x="295" y="1108" width="4" height="5"/><rect x="310" y="1108" width="4" height="5"/><rect x="325" y="1108" width="4" height="5"/><rect x="340" y="1108" width="4" height="5"/><rect x="360" y="1108" width="4" height="5"/></g>
<rect x="202" y="1119" width="179" height="3" fill="#2a4f8a"/>
<rect x="381" y="967" width="150" height="155" fill="#dcdcdc" stroke="#a0a0a0" stroke-width="0.6"/>
<rect x="383" y="970" width="38" height="95" fill="#ececec" stroke="#bbb" stroke-width="0.4"/>
<rect x="423" y="970" width="42" height="95" fill="#e2e2e2" stroke="#bbb" stroke-width="0.4"/>
<rect x="468" y="977" width="60" height="76" fill="#fafafa" stroke="#bbb" stroke-width="0.4"/>
<rect x="480" y="988" width="27" height="52" fill="#f1e5b5" stroke="#c4ad70" stroke-width="0.5"/>
<g stroke="#8a8a8a" stroke-width="0.5"><path d="M386 976H410M388 981H415M388 986H412M390 991H418M390 996H412M390 1001H416M388 1006H410M388 1011H416M390 1016H414M390 1021H412M426 975H460M426 982H458M426 989H460M426 996H456M426 1003H460M426 1010H458M426 1017H460M426 1024H456M483 1000H504M483 1005H504M483 1010H504M483 1015H504M483 1020H504M483 1025H504"/></g>
<rect x="382" y="1063" width="148" height="5" fill="#f0b060"/>
<rect x="383" y="1070" width="146" height="50" fill="#f0f0f0" stroke="#bbb" stroke-width="0.4"/>
<g stroke="#8a8a8a" stroke-width="0.5"><path d="M385 1075H420M428 1080H460M428 1085H470M428 1090H465M428 1095H468M428 1100H462M485 1082H525M485 1088H520M485 1094H526"/></g>

<!-- page number -->
<text x="30" y="1162" font-size="26" fill="#5f7f99">11</text>

<!-- ============ RIGHT BIG PANEL ============ -->
<rect x="1093" y="142" width="1023" height="906" rx="145" ry="145" fill="#cad7e0" stroke="#3e586d" stroke-width="6"/>
<rect x="1160" y="492" width="460" height="62" fill="url(#dots2)" opacity="0.6"/>
<rect x="1100" y="600" width="160" height="90" fill="url(#dots2)" opacity="0.6"/>
<text x="1628" y="192" font-size="32" font-weight="700" fill="#3f5872" text-anchor="middle">需求仿真验证结果</text>
<text x="1113" y="297" font-size="32" font-weight="700" fill="#46617b">需求指标</text>
<text x="1710" y="587" font-size="32" font-weight="700" fill="#46617b">仿真结果</text>
<text x="1117" y="774" font-size="32" font-weight="700" fill="#46617b">架构参数</text>
<text x="1629" y="1042" font-size="32" font-weight="700" fill="#46617b" text-anchor="middle">系统仿真模型</text>
<polygon points="1140,335 1193,335 1193,318 1226,350 1193,383 1193,366 1140,366" fill="#7893aa" stroke="#6a869c" stroke-width="1.5"/>
<polygon points="1141,815 1193,815 1193,797 1227,830 1193,862 1193,845 1141,845" fill="#7893aa" stroke="#6a869c" stroke-width="1.5"/>
<polygon points="1608,524 1636,565 1621,565 1621,615 1595,615 1595,565 1580,565" fill="#7893aa" stroke="#6a869c" stroke-width="1.5"/>

<!-- requirement results table -->
<g>
 <rect x="1275" y="275" width="752" height="23" fill="#c1ced8"/><rect x="1275" y="321" width="752" height="23" fill="#c1ced8"/>
 <rect x="1275" y="368" width="752" height="23" fill="#c1ced8"/><rect x="1275" y="414" width="752" height="23" fill="#c1ced8"/>
 <path d="M1430 252 V460" stroke="#aebbc6" stroke-width="1.5"/>
 <g fill="none" stroke="#b9c7d2" stroke-width="1">
  <rect x="1528" y="281" width="208" height="12" rx="2"/><rect x="1528" y="327" width="208" height="12" rx="2"/>
  <rect x="1528" y="374" width="208" height="12" rx="2"/><rect x="1528" y="420" width="208" height="12" rx="2"/>
  <rect x="1528" y="304" width="47" height="12" rx="2"/><rect x="1592" y="304" width="44" height="12" rx="2"/><rect x="1655" y="304" width="81" height="12" rx="2"/>
  <rect x="1528" y="351" width="47" height="12" rx="2"/><rect x="1592" y="351" width="44" height="12" rx="2"/><rect x="1655" y="351" width="81" height="12" rx="2"/>
  <rect x="1528" y="397" width="47" height="12" rx="2"/><rect x="1592" y="397" width="44" height="12" rx="2"/><rect x="1655" y="397" width="81" height="12" rx="2"/>
  <rect x="1528" y="443" width="47" height="12" rx="2"/><rect x="1592" y="443" width="44" height="12" rx="2"/><rect x="1655" y="443" width="81" height="12" rx="2"/>
 </g>
 <rect x="1487" y="231" width="53" height="248" fill="none" stroke="#5bb88a" stroke-width="1.5" stroke-dasharray="4,3"/>
 <rect x="1553" y="232" width="53" height="248" fill="none" stroke="#de7c84" stroke-width="1.2" stroke-dasharray="4,3"/>
 <rect x="1620" y="232" width="53" height="248" fill="none" stroke="#dda27a" stroke-width="1.2" stroke-dasharray="4,3"/>
 <g font-size="8.5" fill="#7fa2c8" text-anchor="middle"><text x="1512" y="251">系统指标</text><text x="1579" y="251">判定依据</text><text x="1647" y="251">仿真结果</text></g>
 <g fill="none" stroke="#9aa8b4" stroke-width="0.8">
  <rect x="1278" y="259" width="7" height="7"/><rect x="1289" y="257" width="6" height="10" rx="1"/>
  <rect x="1292" y="283" width="6" height="7"/><rect x="1301" y="282" width="6" height="10" rx="1"/>
  <rect x="1292" y="329" width="6" height="7"/><rect x="1301" y="328" width="6" height="10" rx="1"/>
  <rect x="1292" y="375" width="6" height="7"/><rect x="1301" y="374" width="6" height="10" rx="1"/>
  <rect x="1292" y="422" width="6" height="7"/><rect x="1301" y="421" width="6" height="10" rx="1"/>
  <rect x="1298" y="306" width="6" height="7"/><rect x="1309" y="305" width="6" height="10" rx="1"/>
  <rect x="1298" y="353" width="6" height="7"/><rect x="1309" y="352" width="6" height="10" rx="1"/>
  <rect x="1298" y="399" width="6" height="7"/><rect x="1309" y="398" width="6" height="10" rx="1"/>
  <rect x="1298" y="445" width="6" height="7"/><rect x="1309" y="444" width="6" height="10" rx="1"/>
 </g>
 <g fill="#7a98b6"><circle cx="1313" cy="287" r="3.5"/><circle cx="1313" cy="333" r="3.5"/><circle cx="1313" cy="379" r="3.5"/><circle cx="1313" cy="426" r="3.5"/></g>
 <g font-size="9" fill="#86a6cc">
  <text x="1312" y="266">性能需求</text><text x="1319" y="290">性能需求A</text><text x="1318" y="313">仿真验证结果</text>
  <text x="1319" y="336">性能需求B</text><text x="1318" y="360">仿真验证结果</text><text x="1319" y="382">性能需求C</text>
  <text x="1318" y="406">仿真验证结果</text><text x="1319" y="429">性能需求D</text><text x="1318" y="452">仿真验证结果</text>
 </g>
 <g font-size="9" fill="#9aa8b4">
  <text x="1397" y="266">1</text><text x="1397" y="290">A</text><text x="1397" y="313">1</text><text x="1397" y="336">A</text><text x="1397" y="360">1</text>
  <text x="1397" y="382">A</text><text x="1397" y="406">1</text><text x="1397" y="429">A</text><text x="1397" y="452">1</text>
  <text x="1432" y="290">OK</text><text x="1432" y="336">OK</text><text x="1432" y="382">OK</text><text x="1432" y="429">OK</text>
 </g>
 <g font-size="8" fill="#7fa2c8">
  <text x="1511" y="314">3.0</text><text x="1504" y="361">83.2</text><text x="1503" y="406">100%</text><text x="1505" y="453">6KW</text>
  <text x="1637" y="314">2.9</text><text x="1637" y="361">88.7</text><text x="1637" y="406">100%</text><text x="1637" y="453">5.5KW</text>
 </g>
 <g font-size="12" fill="#6e94c4" text-anchor="middle"><text x="1580" y="315">&lt;</text><text x="1580" y="361">=&lt;</text><text x="1580" y="407">=&lt;</text><text x="1580" y="454">&gt;=</text></g>
 <g fill="none" stroke="#9aa4ae" stroke-width="1">
  <circle cx="1747" cy="287" r="5.5"/><circle cx="1774" cy="287" r="5.5"/><circle cx="1747" cy="333" r="5.5"/><circle cx="1774" cy="333" r="5.5"/>
  <circle cx="1747" cy="379" r="5.5"/><circle cx="1774" cy="379" r="5.5"/><circle cx="1747" cy="426" r="5.5"/><circle cx="1774" cy="426" r="5.5"/>
  <circle cx="1932" cy="287" r="5.5"/><circle cx="1932" cy="333" r="5.5"/><circle cx="1932" cy="379" r="5.5"/><circle cx="1932" cy="426" r="5.5"/>
 </g>
 <g font-size="9" fill="#74a878"><text x="1797" y="290">功能的</text><text x="1797" y="336">功能的</text><text x="1797" y="382">功能的</text><text x="1797" y="429">功能的</text></g>
 <g font-size="9" fill="#d2a46a"><text x="1842" y="266">工作中</text><text x="1842" y="290">工作中</text><text x="1842" y="336">工作中</text><text x="1842" y="382">工作中</text><text x="1842" y="429">工作中</text></g>
 <g font-size="9" fill="#7a9ccc"><text x="1842" y="313">冻结</text><text x="1842" y="360">冻结</text><text x="1842" y="406">冻结</text><text x="1842" y="452">冻结</text></g>
 <g fill="#8a9a90"><rect x="1948" y="282" width="3" height="9"/><rect x="1952" y="279" width="3" height="12"/><rect x="1948" y="328" width="3" height="9"/><rect x="1952" y="325" width="3" height="12"/><rect x="1948" y="374" width="3" height="9"/><rect x="1952" y="371" width="3" height="12"/><rect x="1948" y="421" width="3" height="9"/><rect x="1952" y="418" width="3" height="12"/></g>
 <g fill="#5f9a6c"><circle cx="1970" cy="287" r="5.5"/><circle cx="1970" cy="333" r="5.5"/><circle cx="1970" cy="379" r="5.5"/><circle cx="1970" cy="426" r="5.5"/></g>
 <g>
  <g transform="translate(1985,257)"><rect width="4" height="11" fill="#4fc6da"/><rect x="5" width="4" height="11" fill="#d2d870"/><rect x="10" width="5" height="11" fill="#c86a78"/><rect x="16" width="4" height="11" fill="#58c46a"/></g>
  <g transform="translate(1985,281)"><rect width="4" height="11" fill="#4fc6da"/><rect x="5" width="4" height="11" fill="#d2d870"/><rect x="10" width="5" height="11" fill="#c86a78"/><rect x="16" width="4" height="11" fill="#58c46a"/></g>
  <g transform="translate(1985,327)"><rect width="4" height="11" fill="#4fc6da"/><rect x="5" width="4" height="11" fill="#d2d870"/><rect x="10" width="5" height="11" fill="#7a68c8"/><rect x="16" width="4" height="11" fill="#58c46a"/></g>
  <g transform="translate(1985,373)"><rect width="4" height="11" fill="#4fc6da"/><rect x="5" width="4" height="11" fill="#d2d870"/><rect x="10" width="5" height="11" fill="#7a68c8"/><rect x="16" width="4" height="11" fill="#58c46a"/></g>
  <g transform="translate(1985,420)"><rect width="4" height="11" fill="#4fc6da"/><rect x="5" width="4" height="11" fill="#d2d870"/><rect x="10" width="5" height="11" fill="#7a68c8"/><rect x="16" width="4" height="11" fill="#58c46a"/></g>
 </g>
 <rect x="1985" y="304" width="22" height="12" fill="#d0606a"/><rect x="1985" y="351" width="22" height="12" fill="#6ccf78"/>
 <rect x="1985" y="397" width="22" height="12" fill="#6ccf78"/><rect x="1985" y="443" width="22" height="12" fill="#6ccf78"/>
 <g fill="#50d0e0"><rect x="2008" y="304" width="7" height="12"/><rect x="2008" y="351" width="7" height="12"/><rect x="2008" y="397" width="7" height="12"/><rect x="2008" y="443" width="7" height="12"/></g>
 <g font-size="7" fill="#e8a0a8"><text x="1987" y="313">失败</text></g>
 <g font-size="7" fill="#9ae0a4"><text x="1987" y="360">通过</text><text x="1987" y="406">通过</text><text x="1987" y="452">通过</text></g>
</g>

<!-- big red text -->
<text x="1159" y="627" font-size="82" fill="#ee1212" font-weight="500">验证管理</text>

<!-- ============ SIMULATION MODEL ============ -->
<rect x="1291" y="630" width="646" height="367" fill="#ccd8e1"/>
<rect x="1298" y="637" width="634" height="354" fill="none" stroke="#d3747c" stroke-width="1.2"/>
<rect x="1298" y="637" width="634" height="12" fill="#ce5e68"/>
<text x="1311" y="647" font-size="9" fill="#f3dede">Water Heating System A.1</text>
<g fill="none" stroke-width="1.2">
 <path d="M1424 684 H1495 V666 H1758 V676" stroke="#6677d8" marker-end="url(#mb)"/>
 <path d="M1610 633 V657 H1664 V818 H1653" stroke="#6677d8" marker-end="url(#mb)"/>
 <path d="M1772 633 V661 H1814 V676" stroke="#6677d8" marker-end="url(#mb)"/>
 <path d="M1346 742 V712" stroke="#6677d8" marker-end="url(#mb)"/>
 <path d="M1346 742 H1479" stroke="#6677d8" marker-end="url(#mb)"/>
 <path d="M1370 742 V792" stroke="#6677d8" marker-end="url(#mb)"/>
 <path d="M1294 822 H1332" stroke="#6677d8" marker-end="url(#mb)"/>
 <path d="M1294 887 H1338 V909 H1381" stroke="#6677d8" marker-end="url(#mb)"/>
 <path d="M1697 921 H1588 V924 H1483" stroke="#6677d8" marker-end="url(#mb)"/>
 <path d="M1697 921 H1695" stroke="#6677d8" marker-end="url(#mb)"/>
 <path d="M1427 993 V965" stroke="#6677d8" marker-end="url(#mb)"/>
 <path d="M1841 752 V760 H1809 V769" stroke="#6677d8" marker-end="url(#mb)"/>
 <path d="M1897 803 H1916 V771 H1935" stroke="#6677d8"/>
 <path d="M1587 744 H1607 V788" stroke="#d86470" marker-end="url(#mr)"/>
 <path d="M1543 822 H1490 V833 H1439" stroke="#d86470" marker-end="url(#mr)"/>
 <path d="M1764 808 H1707 V851 H1653" stroke="#d86470" marker-end="url(#mr)"/>
 <path d="M1574 881 V903 H1483" stroke="#d86470" marker-end="url(#mr)"/>
 <path d="M1604 881 V903 H1695" stroke="#d86470" marker-end="url(#mr)"/>
 <path d="M1874 993 V856" stroke="#d86470" marker-end="url(#mr)"/>
 <path d="M1874 927 H1784" stroke="#d86470" marker-end="url(#mr)"/>
 <path d="M1757 887 V870 H1812 V856" stroke="#4ccf55" marker-end="url(#mg)"/>
</g>
<g fill="#c8d2da" stroke="#7e8a93" stroke-width="1.2">
 <rect x="1319" y="657" width="105" height="53"/><rect x="1481" y="701" width="106" height="79"/>
 <rect x="1709" y="678" width="149" height="74"/><rect x="1334" y="794" width="103" height="58"/>
 <rect x="1543" y="790" width="108" height="91"/><rect x="1764" y="771" width="133" height="83"/>
 <rect x="1383" y="871" width="98" height="92"/><rect x="1697" y="887" width="85" height="84"/>
</g>
<g fill="#cd5b66">
 <rect x="1320" y="658" width="103" height="16"/><rect x="1482" y="702" width="104" height="10"/>
 <rect x="1710" y="679" width="147" height="12"/><rect x="1335" y="795" width="101" height="11"/>
 <rect x="1544" y="791" width="106" height="10"/><rect x="1765" y="772" width="131" height="12"/>
 <rect x="1384" y="872" width="96" height="19"/><rect x="1698" y="888" width="83" height="10"/>
</g>
<g font-size="8.3" fill="#f6e4e4">
 <text x="1330" y="665">Anti Back-flow Valve A</text><text x="1330" y="673">.1</text>
 <text x="1491" y="710">Pressure sensor A.1</text><text x="1721" y="688.5">Over pressure valve A.1</text>
 <text x="1346" y="804">Rotary Pump A.1</text><text x="1554" y="799.5">ECU A.1</text>
 <text x="1776" y="781.5">Heat exchanger A.1</text><text x="1395" y="879">Steam Dispenser A.</text><text x="1395" y="888">1</text>
 <text x="1708" y="896">Steam Boiler A.1</text>
</g>
<!-- images -->
<rect x="1356" y="678" width="30" height="28" fill="#d2d8dc"/><ellipse cx="1371" cy="692" rx="9" ry="11" fill="#b4a068"/><ellipse cx="1371" cy="692" rx="5" ry="6" fill="#8a7a50"/>
<rect x="1500" y="714" width="68" height="62" fill="url(#dk)"/><path d="M1520 745 L1540 728 L1556 740 L1540 770 L1522 768 Z" fill="#c8ccd0"/><rect x="1536" y="722" width="6" height="14" fill="#6a8ab8"/>
<rect x="1755" y="694" width="56" height="53" fill="#d5dce0"/><rect x="1774" y="700" width="16" height="14" fill="#8a8a80"/><rect x="1776" y="714" width="12" height="24" fill="#a8a89c"/><rect x="1774" y="715" width="16" height="3" fill="#333"/>
<rect x="1368" y="810" width="36" height="37" fill="#d3d9dd"/><path d="M1378 818 h10 v8 h8 v8 h-8 v8 h-12 z" fill="#b89050"/><circle cx="1381" cy="838" r="4" fill="#e4e4e4"/>
<rect x="1546" y="807" width="102" height="68" fill="#cfd7dc"/><path d="M1555 835 L1590 815 L1630 832 L1595 858 Z" fill="#3f8a78"/><path d="M1558 840 L1595 862 L1595 870 L1556 848 Z" fill="#333"/><rect x="1600" y="828" width="8" height="6" fill="#222"/>
<rect x="1796" y="787" width="69" height="62" fill="#d3dadf"/><path d="M1806 808 L1820 798 L1856 816 L1844 828 Z" fill="#9a8e96" stroke="#6c6268" stroke-width="1"/>
<rect x="1387" y="900" width="89" height="53" fill="#4b5159"/><rect x="1390" y="903" width="3" height="45" fill="#b8bcc0"/><path d="M1420 928 h20 v12 q-10 6 -20 0 z" fill="#f2f2f2"/><ellipse cx="1430" cy="928" rx="10" ry="3" fill="#c8a888"/><rect x="1426" y="903" width="8" height="12" fill="#8a8e92"/>
<rect x="1704" y="900" width="71" height="67" fill="#d4dade"/>
<g fill="none" stroke="#b06a40" stroke-width="2.2"><ellipse cx="1716" cy="925" rx="5" ry="12"/><ellipse cx="1720" cy="925" rx="5" ry="12"/><ellipse cx="1724" cy="925" rx="5" ry="12"/></g>
<path d="M1726 918 H1758 M1726 932 H1758" stroke="#c08050" stroke-width="2"/><rect x="1756" y="914" width="6" height="22" fill="#b8a050"/>
<g font-size="6.3" fill="#5d70d6">
 <text x="1615" y="655">Command A.1</text><text x="1598" y="665">Tube HP A.1</text><text x="1774" y="659">Tube HP A.1</text>
 <text x="1339" y="739">Tube HP A.1</text><text x="1404" y="738">Tube HP A.1</text><text x="1298" y="819">Tube A.1</text>
 <text x="1806" y="757">Tube HP A.1</text><text x="1896" y="768">Tube Hot wate</text><text x="1298" y="883">Milk tube A.1</text>
 <text x="1505" y="921">Steam exchanger A.1</text><text x="1402" y="976">Steam Adjust A.1</text>
</g>
<g font-size="5.2" fill="#5c6470">
 <text x="1589" y="741">Wire A.1</text><text x="1444" y="830">Analog signal A.1</text><text x="1660" y="848">Analog signal A.1</text>
 <text x="1772" y="866">Energy A.1</text><text x="1508" y="900">Analog signal A.1</text><text x="1625" y="900">Analog signals A.1</text>
 <text x="1808" y="924">Analog signal A.1</text><text x="1853" y="921">Analog signal A.1</text>
</g>
<g fill="none" stroke="#6677d8" stroke-width="0.8"><path d="M1607 631 L1613 631 L1610 636 Z"/><path d="M1769 636 L1775 636 L1772 631 Z"/><path d="M1424 995 L1430 995 L1427 990 Z"/></g>
<path d="M1871 995 L1877 995 L1874 990 Z" fill="none" stroke="#d86470" stroke-width="0.8"/>

<!-- ============ LOGO & SLOGAN ============ -->
<g fill="#ffffff">
 <polygon points="1580,1142 1610,1078 1616,1078 1627,1108 1620,1122 1612,1100 1600,1142"/>
 <polygon points="1608,1142 1620,1126 1629,1142"/>
 <polygon points="1626,1078 1659,1078 1636,1138 1631,1126 1646,1088 1629,1088"/>
 <polygon points="1640,1133 1669,1133 1666,1142 1637,1142"/>
 <rect x="1648" y="1117" width="11" height="11" fill="none" stroke="#ffffff" stroke-width="1"/>
</g>
<text x="1653.5" y="1126" font-size="8" fill="#ffffff" text-anchor="middle">安</text>
<text x="1685" y="1135" font-size="41" font-weight="700" fill="#ffffff">安心托付，智造未来</text>
</svg>
</body></html>
